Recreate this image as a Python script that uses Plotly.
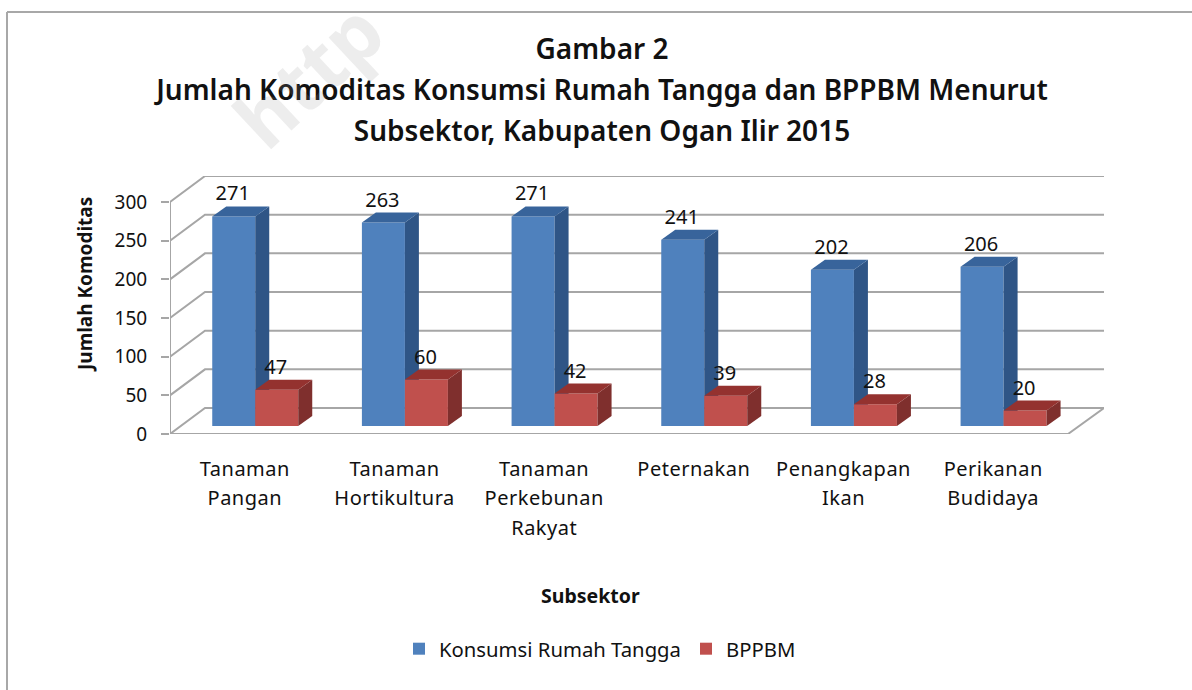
import plotly.graph_objects as go

categories = ["Tanaman<br>Pangan", "Tanaman<br>Hortikultura", "Tanaman<br>Perkebunan<br>Rakyat",
              "Peternakan", "Penangkapan<br>Ikan", "Perikanan<br>Budidaya"]
konsumsi = [271, 263, 271, 241, 202, 206]
bppbm = [47, 60, 42, 39, 28, 20]
y_ticks = [0, 50, 100, 150, 200, 250, 300]

W, H = 1192, 690
L, R, T, B = 170, 1104, 176, 434
PX_CAT = 149.67
PX_VAL = 0.7733
def dx(p): return p / PX_CAT
def dy(p): return p / PX_VAL
def px(x): return (x - L) / (R - L)
def py(y): return (B - y) / (B - T)

xmin = -0.5
xmax = xmin + (R - L) / PX_CAT
ymax = (B - T) / PX_VAL
wall_x, wall_y = dx(35), dy(26)
floor_right = xmin + 6
bar_w = dx(43)
base = dy(8)
shift = dx(10.4)
side_x, side_y = dx(14), dy(10)

BLUE, BLUE_SIDE, BLUE_TOP = "#4f81bd", "#2f5586", "#38649b"
RED, RED_SIDE, RED_TOP = "#c0504d", "#7f2f2d", "#94322f"
GRID = "#a6a6a6"
INK = "#111111"
FONT = "Noto Sans"

fig = go.Figure()

# wall and floor lines, bottom layer
for v in y_ticks:
    xs = [xmin, xmin + wall_x, xmax]
    ys = [v, v + wall_y, v + wall_y]
    if v == 0:
        xs = [xmax, floor_right, xmin, xmin + wall_x, xmax]
        ys = [wall_y, 0, 0, wall_y, wall_y]
    fig.add_trace(go.Scatter(x=xs, y=ys, mode="lines", line=dict(color=GRID, width=2),
                             showlegend=False, hoverinfo="skip", cliponaxis=False))
fig.add_trace(go.Scatter(x=[xmin, xmin], y=[0, 300], mode="lines", line=dict(color=GRID, width=2),
                         showlegend=False, hoverinfo="skip", cliponaxis=False))

def add_series(name, values, off, front, side, top, xa, ya):
    centers = [i + shift + off for i in range(len(values))]
    fig.add_trace(go.Bar(x=centers, y=values, base=[base] * len(values), width=bar_w, name=name,
                         marker=dict(color=front, line=dict(width=0)), xaxis=xa, yaxis=ya))
    for c, v in zip(centers, values):
        x0, x1 = c - bar_w / 2, c + bar_w / 2
        t = base + v
        fig.add_trace(go.Scatter(x=[x1, x1 + side_x, x1 + side_x, x1, x1],
                                 y=[base, base + side_y, t + side_y, t, base],
                                 mode="lines", fill="toself", fillcolor=side, line=dict(width=0),
                                 showlegend=False, hoverinfo="skip", xaxis=xa, yaxis=ya))
        fig.add_trace(go.Scatter(x=[x0, x0 + side_x, x1 + side_x, x1, x0],
                                 y=[t, t + side_y, t + side_y, t, t],
                                 mode="lines", fill="toself", fillcolor=top, line=dict(width=0),
                                 showlegend=False, hoverinfo="skip", xaxis=xa, yaxis=ya))
    return centers

c1 = add_series("Konsumsi Rumah Tangga", konsumsi, -bar_w / 2, BLUE, BLUE_SIDE, BLUE_TOP, "x2", "y2")
c2 = add_series("BPPBM", bppbm, bar_w / 2, RED, RED_SIDE, RED_TOP, "x3", "y3")
for centers, values in ((c1, konsumsi), (c2, bppbm)):
    fig.add_trace(go.Scatter(x=[c + dx(-1) for c in centers],
                             y=[v + base + dy(21) for v in values],
                             mode="text", text=[str(v) for v in values],
                             textfont=dict(family=FONT, size=20, color=INK),
                             showlegend=False, hoverinfo="skip", cliponaxis=False,
                             xaxis="x3", yaxis="y3"))

ticktext = ["<br>".join('<span style="font-size:20px;letter-spacing:0.5px">%s</span>' % s for s in c.split("<br>"))
            for c in categories]
title_lines = ["Gambar 2", "Jumlah Komoditas Konsumsi Rumah Tangga dan BPPBM Menurut",
               "Subsektor, Kabupaten Ogan Ilir 2015"]
title_text = "<br>".join('<span style="font-size:28px">%s</span>' % s for s in title_lines)

hidden = dict(visible=False, showgrid=False, zeroline=False)
fig.update_layout(
    width=W, height=H, autosize=False,
    paper_bgcolor="white", plot_bgcolor="rgba(0,0,0,0)",
    margin=dict(l=L, r=W - R, t=T, b=H - B, autoexpand=False),
    barmode="overlay",
    font=dict(family=FONT, color=INK),
    title=dict(text=title_text, font=dict(family=FONT, size=31.5, weight=600, color=INK),
               x=602 / W, xanchor="center", y=1 - 59 / H, yanchor="top"),
    xaxis=dict(range=[xmin, xmax], tickmode="array", tickvals=list(range(6)), ticktext=ticktext,
               tickfont=dict(family=FONT, size=22.7, color=INK), showgrid=False, zeroline=False,
               showline=False, ticks="", ticklabelstandoff=18),
    yaxis=dict(range=[0, ymax], tickmode="array", tickvals=y_ticks, ticks="outside", ticklen=8,
               tickcolor=GRID, tickwidth=2, tickfont=dict(family=FONT, size=19, color=INK),
               ticklabelstandoff=10, showgrid=False, zeroline=False, showline=False),
    xaxis2=dict(range=[xmin, xmax], overlaying="x", **hidden),
    yaxis2=dict(range=[0, ymax], overlaying="y", **hidden),
    xaxis3=dict(range=[xmin, xmax], overlaying="x", **hidden),
    yaxis3=dict(range=[0, ymax], overlaying="y", **hidden),
    legend=dict(orientation="h", x=px(399), xanchor="left", y=py(649), yanchor="middle",
                font=dict(family=FONT, size=20.3, color=INK), bgcolor="rgba(0,0,0,0)",
                itemwidth=30, traceorder="normal"),
    showlegend=True,
    shapes=[dict(type="line", xref="paper", yref="paper", x0=px(7), x1=px(W), y0=py(12), y1=py(12),
                 line=dict(color="#a8a8a8", width=2), layer="below"),
            dict(type="line", xref="paper", yref="paper", x0=px(7), x1=px(7), y0=py(12), y1=py(H),
                 line=dict(color="#a8a8a8", width=2), layer="below")],
    annotations=[
        dict(text="http", xref="paper", yref="paper", x=px(308), y=py(74), xanchor="center", yanchor="middle",
             textangle=-43, showarrow=False,
             font=dict(family=FONT, size=78, weight="bold", color="rgba(150,150,150,0.17)")),
        dict(text="<b>Jumlah Komoditas</b>", xref="paper", yref="paper", x=px(85), y=py(285), xanchor="center",
             yanchor="middle", textangle=-90, showarrow=False, font=dict(family=FONT, size=19, color=INK)),
        dict(text="<b>Subsektor</b>", xref="paper", yref="paper", x=px(590), y=py(595), xanchor="center",
             yanchor="middle", showarrow=False, font=dict(family=FONT, size=19.5, color=INK)),
    ],
)
fig.write_html("out.html", config=dict(displayModeBar=False),
               post_script="document.body.style.margin='0';document.documentElement.style.overflow='hidden';")
